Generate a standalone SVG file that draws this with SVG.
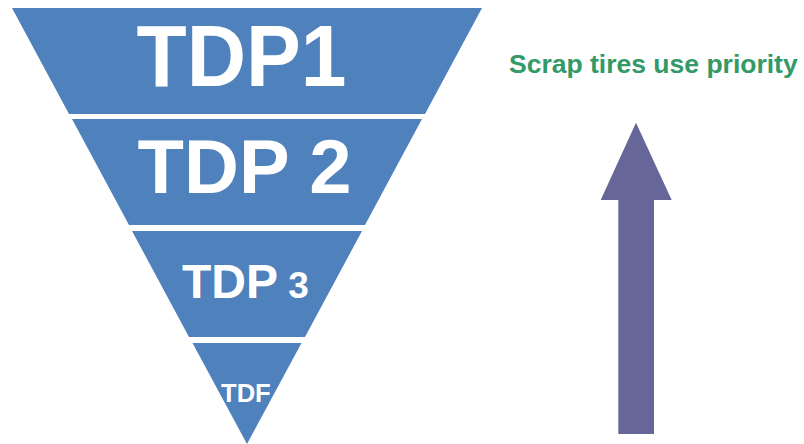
<svg xmlns="http://www.w3.org/2000/svg" width="804" height="444" viewBox="0 0 804 444">
<style>
.band{fill:#4F81BD}
.lbl{font-family:"Liberation Sans",Arial,sans-serif;font-weight:bold;fill:#FFFFFF}
.title{font-family:"Liberation Sans",Arial,sans-serif;font-weight:bold;fill:#339966}
</style>
<rect width="804" height="444" fill="#FFFFFF"/>
<g id="tdp1">
<polygon class="band" points="12,8 482,8 425,114 69,114"/>
<text class="lbl" x="136.5" y="85.5" font-size="87" textLength="210" lengthAdjust="spacingAndGlyphs">TDP1</text>
</g>
<g id="tdp2">
<polygon class="band" points="72,119 422,119 365,225 129,225"/>
<text class="lbl" x="137.6" y="192.7" font-size="76">TDP 2</text>
</g>
<g id="tdp3">
<polygon class="band" points="132,231 362,231 305,337 189,337"/>
<text class="lbl" x="182" y="298" font-size="48">TDP<tspan font-size="37"> 3</tspan></text>
</g>
<g id="tdf">
<polygon class="band" points="192.5,343 301.5,343 247,444"/>
<text class="lbl" x="221" y="402.3" font-size="25.6">TDF</text>
</g>
<g id="priority">
<text class="title" x="509" y="73.3" font-size="26.5">Scrap tires use priority</text>
</g>
<g id="connectors">
<polygon fill="#666699" points="636,122.7 671.7,200 654,200 654,434 618.3,434 618.3,200 600.7,200"/>
</g>
</svg>
